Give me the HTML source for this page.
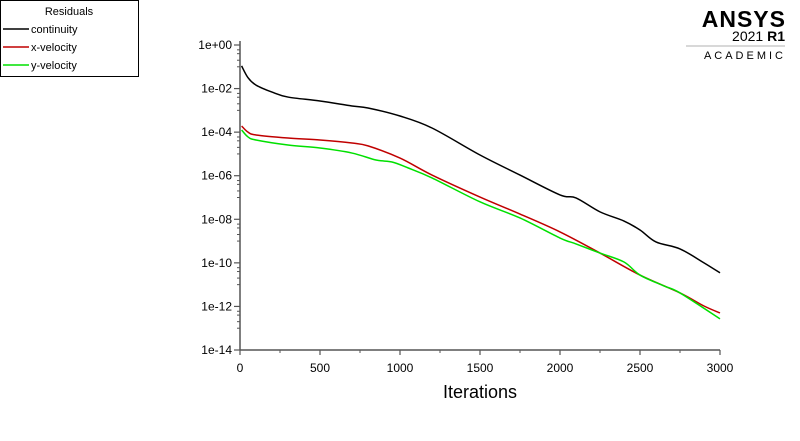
<!DOCTYPE html>
<html><head><meta charset="utf-8"><style>
body{margin:0;background:#fff;width:800px;height:436px;overflow:hidden;font-family:"Liberation Sans",Arial,sans-serif}
</style></head><body>
<svg id="chart" width="800" height="436" xmlns="http://www.w3.org/2000/svg">
<g>
<rect x="0.5" y="0.5" width="138" height="76" fill="#fff" stroke="#000"/>
<text x="69" y="15" font-size="11" text-anchor="middle">Residuals</text>
<line x1="3" y1="29" x2="29" y2="29" stroke="#000" stroke-width="1.5"/><text x="31" y="33" font-size="11">continuity</text>
<line x1="3" y1="47" x2="29" y2="47" stroke="#c00000" stroke-width="1.5"/><text x="31" y="51" font-size="11">x-velocity</text>
<line x1="3" y1="65" x2="29" y2="65" stroke="#00e000" stroke-width="1.5"/><text x="31" y="69" font-size="11">y-velocity</text>
</g>
<g>
<text x="786" y="27" font-size="23" font-weight="bold" text-anchor="end" letter-spacing="1">ANSYS</text>
<text x="785" y="41" font-size="14" text-anchor="end">2021 <tspan font-weight="bold">R1</tspan></text>
<line x1="686" y1="46" x2="785" y2="46" stroke="#999" stroke-width="0.8"/>
<text x="786" y="59" font-size="11" text-anchor="end" letter-spacing="3">ACADEMIC</text>
</g>
<g id="axes"></g>
<g id="series"></g>
<text x="480" y="398" font-size="18" text-anchor="middle">Iterations</text>
</svg>
<script>
const iters=[10,50,100,200,300,500,700,800,1000,1200,1500,1750,2000,2100,2250,2400,2500,2600,2750,2900,3000];
const continuity=[-0.96,-1.5,-1.84,-2.16,-2.39,-2.57,-2.8,-2.89,-3.26,-3.81,-5.05,-5.97,-6.88,-7.02,-7.66,-8.08,-8.49,-9.04,-9.36,-10.0,-10.46];
const xIters=[10,50,100,300,500,700,800,1000,1200,1500,1750,2000,2250,2500,2750,2900,3000];
const xVelocity=[-3.72,-4.0,-4.13,-4.27,-4.36,-4.5,-4.63,-5.19,-5.97,-6.98,-7.76,-8.58,-9.55,-10.56,-11.38,-11.98,-12.3];
const yIters=[10,50,100,300,500,700,850,950,1050,1200,1500,1750,2000,2100,2250,2400,2500,2650,2750,3000];
const yVelocity=[-3.9,-4.22,-4.36,-4.59,-4.73,-4.96,-5.28,-5.37,-5.64,-6.1,-7.2,-7.94,-8.86,-9.13,-9.55,-9.96,-10.56,-11.06,-11.38,-12.57];
const xTicks=[0,500,1000,1500,2000,2500,3000];
const yTicks=[0,-2,-4,-6,-8,-10,-12,-14];
const yTickLabels=["1e+00","1e-02","1e-04","1e-06","1e-08","1e-10","1e-12","1e-14"];
const X0=240,X1=720,Y0=45,Y1=350;
const sx=v=>X0+(v/3000)*(X1-X0);
const sy=l=>Y0+(0-l)/14*(Y1-Y0);
const NS="http://www.w3.org/2000/svg";
function mk(t,a,p){const e=document.createElementNS(NS,t);for(const k in a)e.setAttribute(k,a[k]);p.appendChild(e);return e;}
const ax=document.getElementById('axes');
let e=mk('line',{x1:X0,y1:Y0-4,x2:X0,y2:Y1,stroke:'#555','stroke-width':1.5},ax);


e=mk('line',{x1:X0,y1:Y1,x2:X1,y2:Y1,stroke:'#555','stroke-width':1.5},ax);


yTicks.forEach((l,i)=>{
 mk('line',{x1:X0-6,y1:sy(l),x2:X0,y2:sy(l),stroke:'#555','stroke-width':1.2},ax);
 if(i<yTicks.length-1){[2,4,6].forEach(m=>{mk('line',{x1:X0-3,y1:sy(l-1+Math.log10(m)),x2:X0,y2:sy(l-1+Math.log10(m)),stroke:'#555'},ax);});
  mk('line',{x1:X0-3,y1:sy(l-1),x2:X0,y2:sy(l-1),stroke:'#555'},ax);}
 const t=mk('text',{x:X0-8,y:sy(l)+4,'font-size':12,'text-anchor':'end'},ax);t.textContent=yTickLabels[i];
 
 
});
xTicks.forEach((v,i)=>{
 mk('line',{x1:sx(v),y1:Y1,x2:sx(v),y2:Y1+5,stroke:'#555','stroke-width':1.2},ax);
 if(i<xTicks.length-1)mk('line',{x1:sx(v+250),y1:Y1,x2:sx(v+250),y2:Y1+3,stroke:'#555'},ax);
 const t=mk('text',{x:sx(v),y:Y1+22,'font-size':12,'text-anchor':'middle'},ax);t.textContent=v;
 
 
});
function path(xs,ys){const p=xs.map((x,i)=>[sx(x),sy(ys[i])]);let d='M'+p[0][0]+','+p[0][1];
 for(let i=0;i<p.length-1;i++){const a=p[Math.max(0,i-1)],b=p[i],c=p[i+1],n=p[Math.min(p.length-1,i+2)];
  d+=` C${b[0]+(c[0]-a[0])/6},${b[1]+(c[1]-a[1])/6} ${c[0]-(n[0]-b[0])/6},${c[1]-(n[1]-b[1])/6} ${c[0]},${c[1]}`;}return d;}
const sg=document.getElementById('series');
[[iters,continuity,'#000','continuity-line'],[xIters,xVelocity,'#c00000','x-velocity-line'],[yIters,yVelocity,'#00e000','y-velocity-line']].forEach(s=>{
 const el=mk('path',{d:path(s[0],s[1]),fill:'none',stroke:s[2],'stroke-width':1.5},sg);
 
 
});
</script>
</body></html>
